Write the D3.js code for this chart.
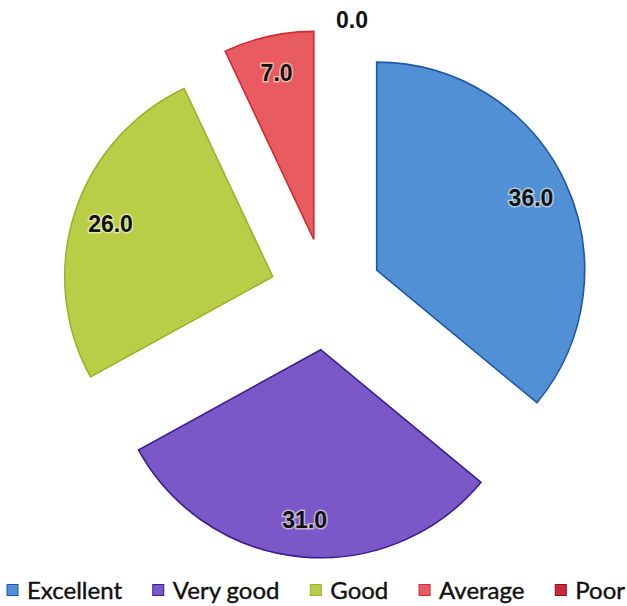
<!DOCTYPE html>
<html>
<head>
<meta charset="utf-8">
<script src="https://cdn.jsdelivr.net/npm/d3@7"></script>
<style>
  body { margin: 0; background: #fff; }
  svg { display: block; }
</style>
</head>
<body>
<div class="chart"></div>
<script>
const categories = ['Excellent', 'Very good', 'Good', 'Average', 'Poor']
const values = [36.0, 31.0, 26.0, 7.0, 0.0]

const fills = ['#5290d6', '#7b58c8', '#b9cd46', '#e85b60', '#c8283a']
const strokes = ['#1d57a6', '#3b1e8e', '#9db22a', '#d22a2e', '#8e1020']

const width = 627
const height = 606
const cx = 326
const cy = 294
const radius = 208
const explode = 56

const svg = d3.select('.chart')
  .append('svg')
  .attr('width', width)
  .attr('height', height)

const pie = d3.pie().sort(null).value(d => d)
const arc = d3.arc().innerRadius(0).outerRadius(radius)
const arcs = pie(values)

function dir(a) {
  return [Math.sin(a), -Math.cos(a)]
}

const g = svg.append('g')
  .attr('transform', `translate(${cx},${cy})`)

const slice = g.selectAll('g.slice')
  .data(arcs)
  .enter()
  .append('g')
  .attr('class', 'slice')
  .attr('transform', function (d) {
    const m = (d.startAngle + d.endAngle) / 2
    const v = dir(m)
    return `translate(${v[0] * explode},${v[1] * explode})`
  })

slice.filter(d => d.value > 0)
  .append('path')
  .attr('d', arc)
  .style('fill', d => fills[d.index])
  .style('stroke', d => strokes[d.index])
  .style('stroke-width', '1.6px')
  .style('stroke-linejoin', 'miter')

// zero slice gets its label outside the rim, nudged right
slice.append('text')
  .attr('x', function (d) {
    const m = (d.startAngle + d.endAngle) / 2
    if (d.value === 0) return dir(m)[0] * (radius + 10) + 26
    return dir(m)[0] * radius * 0.82
  })
  .attr('y', function (d) {
    const m = (d.startAngle + d.endAngle) / 2
    if (d.value === 0) return dir(m)[1] * (radius + 10)
    return dir(m)[1] * radius * 0.82
  })
  .attr('text-anchor', 'middle')
  .attr('dominant-baseline', 'central')
  .style('font-family', '"Liberation Sans", Arial, sans-serif')
  .style('font-weight', 'bold')
  .style('font-size', '23px')
  .style('fill', '#111')
  .style('paint-order', 'stroke')
  .style('stroke', d => d.value === 0 ? 'none' : 'rgba(255,255,230,0.55)')
  .style('stroke-width', '3px')
  .text(d => d.value.toFixed(1))

// legend
const legend = svg.append('g')
const items = legend.selectAll('g')
  .data(categories)
  .enter()
  .append('g')

items.append('rect')
  .attr('width', 11)
  .attr('height', 11)
  .attr('y', -5.5)
  .style('fill', (d, i) => fills[i])
  .style('stroke', (d, i) => strokes[i])
  .style('stroke-width', '1px')

items.append('text')
  .attr('x', 20)
  .attr('dy', '0.36em')
  .style('font-family', 'Lato, "Open Sans", sans-serif')
  .style('font-size', '24px')
  .style('fill', '#111')
  .style('stroke', '#111')
  .style('stroke-width', '0.4px')
  .text(d => d)

let widths = []
items.each(function () {
  widths.push(20 + d3.select(this).select('text').node().getComputedTextLength())
})
const left = 7
const right = 625
const gap = (right - left - d3.sum(widths)) / (widths.length - 1)
let xpos = left
items.attr('transform', function (d, i) {
  const t = `translate(${xpos},590)`
  xpos += widths[i] + gap
  return t
})
</script>
</body>
</html>
